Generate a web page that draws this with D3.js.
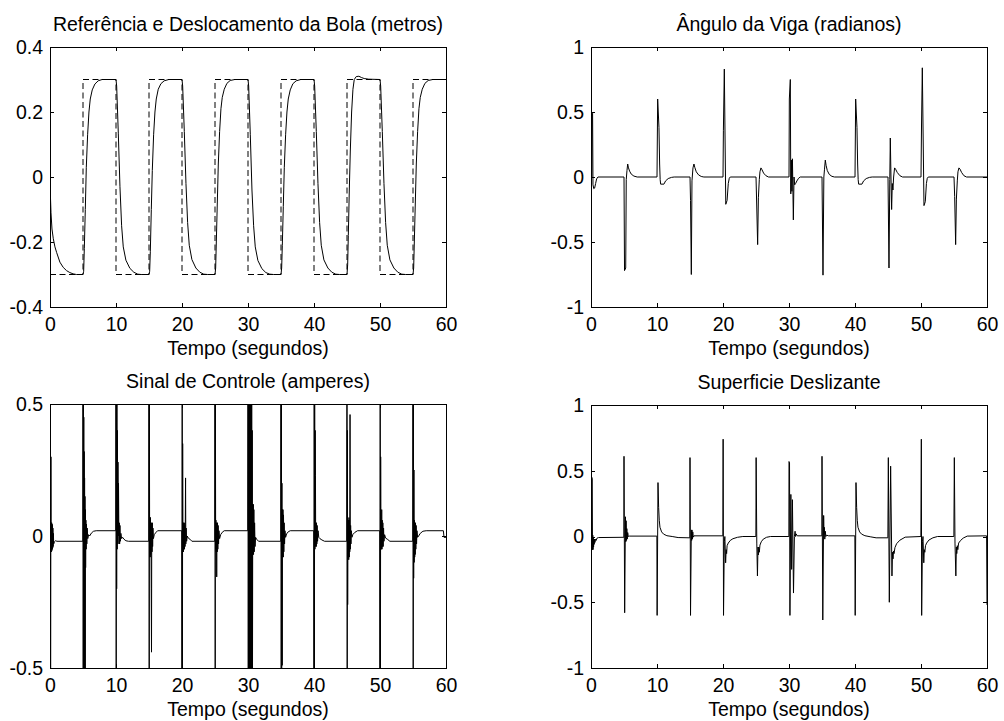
<!DOCTYPE html>
<html>
<head>
<meta charset="utf-8">
<script src="https://cdn.jsdelivr.net/npm/d3@7"></script>
<style>
  body { margin: 0; background: #fff; }
  svg text { font-family: Arial, "Liberation Sans", Helvetica, sans-serif; fill: #000; }
</style>
</head>
<body>
<svg id="fig" width="1004" height="721"></svg>
<script>
// ---- tick labels ----
const timeTicks = [0, 10, 20, 30, 40, 50, 60];
const posTicks = [-0.4, -0.2, 0, 0.2, 0.4];
const angleTicks = [-1, -0.5, 0, 0.5, 1];
const controlTicks = [-0.5, 0, 0.5];
const surfaceTicks = [-1, -0.5, 0, 0.5, 1];

// ---- reference square wave [t, metros] ----
const referencePos = [
  [0,-0.3],[5,-0.3],[5,0.3],[10,0.3],[10,-0.3],[15,-0.3],[15,0.3],[20,0.3],[20,-0.3],
  [25,-0.3],[25,0.3],[30,0.3],[30,-0.3],[35,-0.3],[35,0.3],[40,0.3],[40,-0.3],
  [45,-0.3],[45,0.3],[50,0.3],[50,-0.3],[55,-0.3],[55,0.3],[60,0.3]
];

// ---- ball displacement [t, metros] ----
const ballPos = [
  [0,0],[0.05,-0.05],[0.15,-0.11],[0.3,-0.16],[0.5,-0.19],[0.75,-0.215],[1.0,-0.232],[1.5,-0.262],[2.0,-0.278],[2.5,-0.288],[3.0,-0.294],[3.5,-0.298],[4.0,-0.3],[5.0,-0.3],
  [5.1,-0.29],[5.2,-0.22],[5.35,-0.1],[5.5,0.03],[5.7,0.13],[5.9,0.2],[6.1,0.24],[6.4,0.268],[6.8,0.286],[7.3,0.296],[7.9,0.3],[10.0,0.3],
  [10.1,0.28],[10.35,0.135],[10.6,-0.03],[10.85,-0.15],[11.1,-0.215],[11.5,-0.256],[12.1,-0.281],[12.7,-0.293],[13.3,-0.299],[13.8,-0.3],[15.0,-0.3],
  [15.1,-0.29],[15.2,-0.23],[15.35,-0.1],[15.5,0.02],[15.7,0.13],[15.9,0.2],[16.1,0.24],[16.4,0.27],[16.8,0.287],[17.3,0.296],[18.0,0.3],[20.0,0.3],
  [20.1,0.28],[20.35,0.14],[20.6,-0.02],[20.85,-0.14],[21.1,-0.21],[21.5,-0.254],[22.1,-0.28],[22.7,-0.293],[23.3,-0.299],[23.9,-0.3],[25.0,-0.3],
  [25.1,-0.28],[25.2,-0.2],[25.35,-0.08],[25.5,0.04],[25.7,0.14],[25.9,0.21],[26.1,0.245],[26.4,0.27],[26.8,0.288],[27.3,0.297],[28.0,0.3],[30.0,0.3],
  [30.1,0.28],[30.35,0.13],[30.6,-0.04],[30.85,-0.15],[31.1,-0.215],[31.5,-0.257],[32.1,-0.282],[32.7,-0.294],[33.3,-0.299],[33.9,-0.3],[35.0,-0.3],
  [35.1,-0.28],[35.2,-0.21],[35.35,-0.09],[35.5,0.03],[35.7,0.13],[35.9,0.2],[36.1,0.24],[36.4,0.268],[36.8,0.287],[37.3,0.296],[38.0,0.3],[40.0,0.3],
  [40.1,0.28],[40.35,0.14],[40.6,-0.02],[40.85,-0.14],[41.1,-0.21],[41.5,-0.255],[42.1,-0.28],[42.7,-0.293],[43.3,-0.299],[43.9,-0.3],[45.0,-0.3],
  [45.1,-0.27],[45.2,-0.18],[45.35,-0.04],[45.5,0.08],[45.7,0.2],[45.9,0.27],[46.1,0.3],[46.4,0.309],[46.8,0.31],[47.2,0.306],[47.6,0.303],[48.3,0.301],[50.0,0.3],
  [50.1,0.28],[50.35,0.14],[50.6,-0.02],[50.85,-0.14],[51.1,-0.21],[51.5,-0.255],[52.1,-0.28],[52.7,-0.293],[53.3,-0.299],[53.9,-0.3],[55.0,-0.3],
  [55.1,-0.28],[55.2,-0.2],[55.35,-0.08],[55.5,0.04],[55.7,0.14],[55.9,0.21],[56.1,0.245],[56.4,0.27],[56.8,0.288],[57.3,0.297],[58.0,0.3],[60.0,0.3]
];

// ---- beam angle [t, radianos] ----
const beamAngle = [
  [0,0],[0.12,0.0],[0.16,0.5],[0.24,0.49],[0.3,-0.06],[0.42,-0.09],[0.55,-0.085],[0.7,-0.05],[0.85,-0.015],[1.05,0],[5.0,0],
  [5.08,-0.72],[5.26,-0.7],[5.34,-0.02],[5.45,0.05],[5.56,0.1],[5.68,0.07],[5.85,0.045],[6.1,0.022],[6.5,0.007],[7.0,0],[10.0,0],
  [10.1,0.6],[10.3,0.38],[10.4,0.1],[10.48,-0.02],[10.55,-0.055],[11.05,-0.055],[11.3,-0.03],[11.7,-0.012],[12.2,-0.003],[12.6,0],[15.0,0],
  [15.08,-0.18],[15.2,-0.75],[15.3,-0.03],[15.45,0.07],[15.6,0.1],[15.72,0.075],[15.95,0.04],[16.3,0.016],[16.7,0.004],[17.1,0],[20.0,0],
  [20.06,0.36],[20.2,0.83],[20.42,-0.21],[20.62,-0.18],[20.8,-0.05],[20.95,-0.01],[21.1,0],[25.0,0],
  [25.1,-0.2],[25.25,-0.52],[25.36,-0.16],[25.5,-0.02],[25.6,0.04],[25.75,0.07],[25.92,0.055],[26.15,0.03],[26.5,0.01],[26.9,0],[30.0,0],
  [30.05,0.6],[30.2,0.75],[30.27,-0.13],[30.36,0.13],[30.44,-0.11],[30.52,0.14],[30.66,-0.33],[30.76,0.0],[30.86,-0.06],[31.0,-0.05],[31.2,-0.03],[31.45,-0.01],[31.7,0],[35.0,0],
  [35.06,-0.3],[35.15,-0.755],[35.28,0.0],[35.38,0.06],[35.5,0.13],[35.62,0.09],[35.8,0.05],[36.1,0.02],[36.5,0.005],[36.9,0],[40.0,0],
  [40.1,0.6],[40.3,0.38],[40.4,0.1],[40.48,-0.02],[40.55,-0.055],[41.05,-0.055],[41.3,-0.03],[41.7,-0.012],[42.2,-0.003],[42.6,0],[45.0,0],
  [45.15,-0.7],[45.27,-0.02],[45.35,0.3],[45.45,0.0],[45.55,-0.25],[45.65,-0.05],[45.75,-0.1],[45.85,0.0],[46.0,0.07],[46.15,0.06],[46.4,0.035],[46.8,0.01],[47.2,0],[50.0,0],
  [50.08,0.4],[50.2,0.84],[50.45,-0.22],[50.65,-0.19],[50.82,-0.05],[50.95,-0.01],[51.1,0],[55.0,0],
  [55.1,-0.15],[55.25,-0.52],[55.36,-0.17],[55.5,-0.03],[55.6,0.04],[55.75,0.07],[55.92,0.06],[56.15,0.035],[56.5,0.01],[56.9,0],[60.0,0]
];

// ---- control signal [t, amperes] (saturated switching is clipped by the axes) ----
const controlSignal = [
  [0,-0.6],[0.1,-0.6],[0.14,0.3],[0.17,-0.05],[0.2,0.05],[0.23,-0.06],[0.26,0.05],[0.29,-0.055],[0.32,0.045],[0.35,-0.05],[0.38,0.04],[0.41,-0.045],[0.44,0.03],[0.47,-0.04],[0.51,0.01],[0.56,-0.03],[0.66,-0.022],[0.85,-0.018],[1.05,-0.02],[4.98,-0.02],
  [5.0,0.9],[5.03,-0.7],[5.06,0.6],[5.09,-0.7],[5.12,0.45],[5.15,-0.7],[5.18,0.32],[5.21,-0.7],[5.24,0.22],[5.27,-0.6],[5.3,0.15],[5.33,-0.5],[5.36,0.1],[5.4,-0.12],[5.44,0.06],[5.48,-0.05],[5.53,0.045],[5.58,-0.03],[5.64,0.03],[5.72,-0.01],[5.85,0.005],[6.0,0.0],[6.3,0.012],[6.6,0.018],[7.0,0.02],[9.96,0.02],
  [10.0,0.9],[10.03,-0.7],[10.06,0.75],[10.1,-0.2],[10.14,0.55],[10.18,-0.05],[10.22,0.4],[10.26,-0.03],[10.3,0.28],[10.34,0.0],[10.38,0.2],[10.42,0.06],[10.46,-0.03],[10.5,0.05],[10.55,-0.03],[10.6,0.04],[10.66,-0.02],[10.74,0.01],[10.85,-0.01],[11.0,-0.005],[11.2,-0.012],[11.5,-0.018],[11.9,-0.02],[14.96,-0.02],
  [15.0,0.9],[15.03,-0.7],[15.06,0.5],[15.1,-0.08],[15.14,0.07],[15.18,-0.08],[15.22,0.07],[15.26,-0.07],[15.3,0.05],[15.34,-0.2],[15.38,-0.44],[15.42,0.05],[15.46,-0.06],[15.5,0.05],[15.55,-0.04],[15.6,0.03],[15.67,-0.01],[15.8,0.005],[16.0,0.012],[16.3,0.02],[19.96,0.02],
  [20.0,-0.8],[20.03,0.9],[20.06,-0.7],[20.1,0.35],[20.14,-0.06],[20.18,0.05],[20.22,-0.06],[20.26,0.05],[20.3,-0.05],[20.34,0.05],[20.38,-0.05],[20.42,0.04],[20.46,-0.04],[20.5,0.05],[20.54,0.22],[20.58,-0.03],[20.63,0.03],[20.7,-0.02],[20.8,0.0],[20.95,-0.008],[21.2,-0.012],[21.5,-0.02],[24.96,-0.02],
  [25.0,0.9],[25.03,-0.7],[25.06,0.55],[25.1,-0.05],[25.14,0.06],[25.18,-0.06],[25.22,0.05],[25.26,-0.155],[25.3,0.05],[25.34,-0.06],[25.38,0.05],[25.43,-0.05],[25.48,0.04],[25.54,-0.03],[25.6,0.02],[25.7,-0.01],[25.85,0.005],[26.1,0.014],[26.4,0.02],[29.96,0.02],
  [30.0,0.9],[30.04,-0.8],[30.08,0.8],[30.12,-0.8],[30.16,0.8],[30.2,-0.8],[30.24,0.8],[30.28,-0.8],[30.32,0.8],[30.36,-0.8],[30.4,0.8],[30.44,-0.8],[30.48,0.7],[30.52,-0.8],[30.56,0.6],[30.6,-0.7],[30.64,0.4],[30.68,-0.55],[30.72,0.12],[30.76,-0.07],[30.8,0.12],[30.84,-0.07],[30.89,0.1],[30.94,-0.06],[31.0,0.05],[31.07,-0.04],[31.15,-0.005],[31.3,-0.012],[31.6,-0.02],[34.96,-0.02],
  [35.0,0.9],[35.03,-0.7],[35.06,0.6],[35.1,-0.7],[35.14,0.2],[35.18,-0.49],[35.22,0.1],[35.26,-0.08],[35.3,0.1],[35.34,-0.08],[35.38,0.08],[35.43,-0.06],[35.48,0.05],[35.54,-0.03],[35.6,0.02],[35.7,-0.005],[35.85,0.008],[36.1,0.016],[36.4,0.02],[39.96,0.02],
  [40.0,-0.8],[40.03,0.9],[40.06,-0.7],[40.1,0.6],[40.14,-0.05],[40.18,0.4],[40.22,0.23],[40.26,-0.04],[40.3,0.05],[40.34,-0.04],[40.38,0.05],[40.43,-0.03],[40.48,0.04],[40.54,-0.02],[40.62,0.02],[40.72,-0.005],[40.9,-0.01],[41.2,-0.015],[41.6,-0.02],[44.96,-0.02],
  [45.0,0.9],[45.03,-0.7],[45.06,0.4],[45.1,-0.26],[45.14,0.06],[45.18,-0.08],[45.22,0.06],[45.26,-0.09],[45.3,0.07],[45.34,-0.08],[45.38,0.06],[45.42,-0.06],[45.46,0.46],[45.5,-0.05],[45.55,0.04],[45.6,-0.03],[45.66,0.02],[45.75,-0.005],[45.9,0.006],[46.2,0.014],[46.6,0.02],[49.96,0.02],
  [50.0,-0.8],[50.03,0.9],[50.06,-0.7],[50.1,0.3],[50.14,-0.05],[50.18,0.06],[50.22,-0.05],[50.26,0.1],[50.3,-0.05],[50.34,0.06],[50.38,-0.04],[50.43,0.05],[50.48,-0.04],[50.54,0.03],[50.6,-0.02],[50.7,0.005],[50.85,-0.008],[51.1,-0.012],[51.5,-0.02],[54.96,-0.02],
  [55.0,0.9],[55.03,-0.7],[55.06,0.5],[55.1,-0.16],[55.14,0.25],[55.18,-0.1],[55.22,0.06],[55.26,-0.08],[55.3,0.05],[55.34,-0.07],[55.38,0.05],[55.43,-0.05],[55.48,0.04],[55.54,-0.03],[55.6,0.02],[55.7,-0.005],[55.85,0.0],[56.1,0.01],[56.5,0.018],[57.0,0.02],[59.6,0.02],[59.7,-0.005],[60.0,-0.005]
];

// ---- sliding surface [t, s] ----
const slidingSurface = [
  [0,0],[0.08,0.0],[0.12,0.45],[0.18,0.44],[0.23,-0.1],[0.27,0.01],[0.31,-0.1],[0.35,-0.01],[0.39,-0.08],[0.43,-0.02],[0.48,-0.06],[0.53,-0.02],[0.6,-0.045],[0.68,-0.02],[0.78,-0.03],[0.92,-0.012],[1.15,-0.008],[4.98,-0.006],
  [5.0,0.61],[5.1,-0.58],[5.22,0.15],[5.27,-0.04],[5.32,0.12],[5.37,-0.03],[5.43,0.06],[5.5,-0.02],[5.56,0.03],[5.65,0.0],[5.8,0.003],[9.98,0.003],
  [10.02,-0.6],[10.15,0.41],[10.25,0.22],[10.35,0.12],[10.45,0.07],[10.7,0.035],[11.0,0.018],[11.5,0.006],[12.3,0.0],[13.2,-0.008],[14.98,-0.01],
  [15.0,0.6],[15.08,-0.6],[15.2,0.05],[15.25,-0.03],[15.3,0.05],[15.35,-0.02],[15.42,0.035],[15.5,-0.005],[15.6,0.005],[19.98,0.005],
  [20.02,0.74],[20.08,-0.6],[20.2,-0.04],[20.28,0.0],[20.4,-0.2],[20.48,-0.1],[20.55,-0.13],[20.62,-0.07],[20.8,-0.05],[21.1,-0.03],[21.5,-0.017],[22.2,-0.006],[23.0,0.0],[24.98,0.0],
  [25.02,0.6],[25.12,-0.05],[25.22,-0.3],[25.3,-0.08],[25.36,-0.14],[25.42,-0.08],[25.5,-0.12],[25.6,-0.065],[25.8,-0.04],[26.1,-0.02],[26.6,-0.006],[27.2,0.0],[29.98,0.0],
  [30.0,0.57],[30.08,0.56],[30.14,-0.6],[30.28,0.32],[30.4,-0.25],[30.52,0.28],[30.68,-0.43],[30.82,0.0],[30.92,0.04],[31.0,0.0],[31.08,0.02],[31.25,0.005],[34.98,0.005],
  [35.0,0.61],[35.12,-0.635],[35.25,0.16],[35.3,0.02],[35.35,0.07],[35.42,-0.02],[35.5,0.04],[35.58,0.0],[35.7,0.01],[36.0,0.005],[39.98,0.005],
  [40.03,-0.6],[40.15,0.41],[40.25,0.22],[40.35,0.12],[40.45,0.07],[40.7,0.035],[41.0,0.018],[41.5,0.006],[42.3,-0.002],[43.2,-0.01],[44.98,-0.01],
  [45.05,0.6],[45.2,-0.5],[45.4,0.535],[45.6,-0.3],[45.68,-0.12],[45.76,-0.17],[45.84,-0.11],[45.92,-0.13],[46.05,-0.085],[46.3,-0.055],[46.8,-0.028],[47.6,-0.005],[49.98,0.0],
  [50.05,0.74],[50.1,-0.6],[50.22,-0.04],[50.3,0.0],[50.42,-0.2],[50.5,-0.1],[50.58,-0.12],[50.68,-0.07],[50.85,-0.05],[51.2,-0.027],[51.8,-0.01],[52.5,0.0],[54.98,0.0],
  [55.05,0.6],[55.15,-0.05],[55.28,-0.3],[55.36,-0.08],[55.42,-0.13],[55.5,-0.07],[55.58,-0.1],[55.7,-0.05],[56.0,-0.03],[56.4,-0.012],[57.0,0.003],[59.94,0.005],[60.0,-0.52]
];

// ---- figure layout: four subplots ----
const FONT = 19.5;
const panels = [
  { title: "Referência e Deslocamento da Bola (metros)", box: [50, 446, 47, 307], yDomain: [-0.4, 0.4], yTicks: posTicks,
    series: [{ data: ballPos }, { data: referencePos, dash: "6,3.5" }] },
  { title: "Ângulo da Viga (radianos)", box: [591, 987, 47, 307], yDomain: [-1, 1], yTicks: angleTicks,
    series: [{ data: beamAngle }] },
  { title: "Sinal de Controle (amperes)", box: [50, 446, 404, 668], yDomain: [-0.5, 0.5], yTicks: controlTicks,
    series: [{ data: controlSignal }] },
  { title: "Superficie Deslizante", box: [591, 987, 405, 668], yDomain: [-1, 1], yTicks: surfaceTicks,
    series: [{ data: slidingSurface }] }
];

const svg = d3.select("#fig");
svg.append("rect").attr("width", 1004).attr("height", 721).attr("fill", "#fff");
const defs = svg.append("defs");
const fmt = d => String(d);

panels.forEach((p, i) => {
  const [x0, x1, y0, y1] = p.box;
  const x = d3.scaleLinear().domain([0, 60]).range([x0, x1]);
  const y = d3.scaleLinear().domain(p.yDomain).range([y1, y0]);
  const g = svg.append("g");

  const clipId = "plotClip" + i;
  defs.append("clipPath").attr("id", clipId)
    .append("rect").attr("x", x0).attr("y", y0).attr("width", x1 - x0).attr("height", y1 - y0);

  const line = d3.line().x(d => x(d[0])).y(d => y(d[1]));
  const plot = g.append("g").attr("clip-path", `url(#${clipId})`);
  p.series.forEach(s => {
    plot.append("path")
      .attr("d", line(s.data))
      .attr("fill", "none")
      .attr("stroke", "#000")
      .attr("stroke-width", 1)
      .attr("stroke-dasharray", s.dash || null)
      .attr("stroke-linejoin", "miter");
  });

  // frame
  g.append("rect")
    .attr("x", x0 + 0.5).attr("y", y0 + 0.5)
    .attr("width", x1 - x0).attr("height", y1 - y0)
    .attr("fill", "none").attr("stroke", "#000").attr("stroke-width", 1)
    .attr("shape-rendering", "crispEdges");

  const styleAxis = sel => {
    sel.select(".domain").remove();
    sel.attr("font-size", FONT).attr("font-family", 'Arial, "Liberation Sans", Helvetica, sans-serif');
    sel.selectAll("line").attr("stroke", "#000").attr("shape-rendering", "crispEdges");
    sel.selectAll("text").attr("fill", "#000");
  };

  g.append("g").attr("transform", `translate(0,${y1})`)
    .call(d3.axisBottom(x).tickValues(timeTicks).tickSize(-4).tickPadding(10).tickFormat(fmt))
    .call(styleAxis);
  g.append("g").attr("transform", `translate(0,${y0})`)
    .call(d3.axisTop(x).tickValues(timeTicks).tickSize(-4).tickFormat(""))
    .call(styleAxis);
  g.append("g").attr("transform", `translate(${x0},0)`)
    .call(d3.axisLeft(y).tickValues(p.yTicks).tickSize(-4).tickPadding(7).tickFormat(fmt))
    .call(styleAxis);
  g.append("g").attr("transform", `translate(${x1},0)`)
    .call(d3.axisRight(y).tickValues(p.yTicks).tickSize(-4).tickFormat(""))
    .call(styleAxis);

  const cx = (x0 + x1) / 2;
  g.append("text").attr("x", cx).attr("y", y0 - 16.5)
    .attr("text-anchor", "middle").attr("font-size", FONT).text(p.title);
  g.append("text").attr("x", cx).attr("y", y1 + 48)
    .attr("text-anchor", "middle").attr("font-size", FONT).text("Tempo (segundos)");
});
</script>
</body>
</html>
